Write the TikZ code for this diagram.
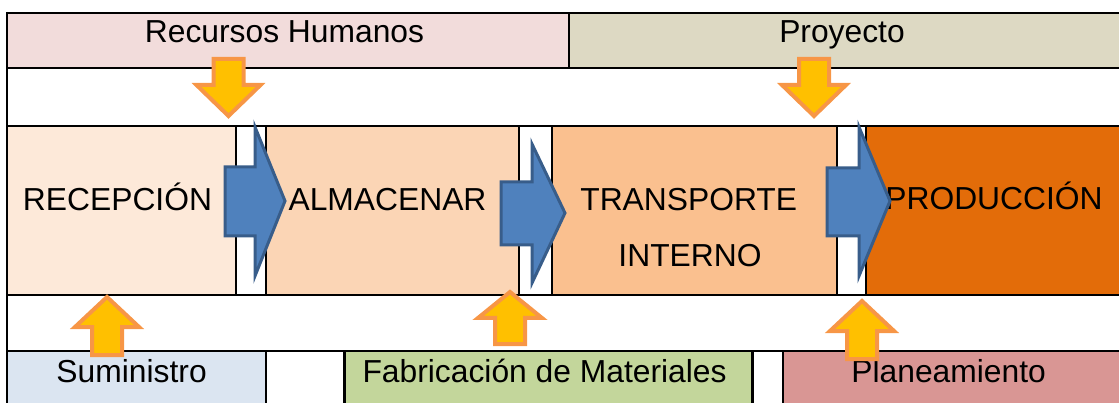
\documentclass[tikz,border=0pt]{standalone}
\usepackage{fontspec}
\setmainfont{Liberation Sans}
\definecolor{rhfill}{HTML}{F2DCDB}
\definecolor{pyfill}{HTML}{DDD9C3}
\definecolor{recfill}{HTML}{FDE9D9}
\definecolor{almfill}{HTML}{FBD5B5}
\definecolor{trafill}{HTML}{FAC08F}
\definecolor{profill}{HTML}{E36C09}
\definecolor{sumfill}{HTML}{DBE5F1}
\definecolor{fabfill}{HTML}{C3D69B}
\definecolor{plafill}{HTML}{D99694}
\definecolor{arrfill}{HTML}{FFC000}
\definecolor{arrline}{HTML}{F79646}
\definecolor{bfill}{HTML}{4F81BD}
\definecolor{bline}{HTML}{385D8A}
\begin{document}
\begin{tikzpicture}[x=1pt,y=-1pt,
  gridline/.style={line width=2.4pt, black},
  lbl/.style={anchor=base, inner sep=0pt, font=\fontsize{31.8}{38}\selectfont},
  oarrow/.style={fill=arrfill, draw=arrline, line width=4pt, line join=miter},
  barrow/.style={fill=bfill, draw=bline, line width=3pt, line join=miter}]
\useasboundingbox (0,0) rectangle (1119,403);
% cell fills
\fill[rhfill] (7,13) rectangle (569,68);
\fill[pyfill] (569,13) rectangle (1130,68);
\fill[recfill] (7,126) rectangle (236,295);
\fill[almfill] (266,126) rectangle (519,295);
\fill[trafill] (552,126) rectangle (837,295);
\fill[profill] (866,126) rectangle (1130,295);
\fill[sumfill] (7,351) rectangle (266,410);
\fill[fabfill] (344.6,351) rectangle (752.5,410);
\fill[plafill] (783,351) rectangle (1130,410);
% grid lines
\draw[gridline] (7,13) -- (1130,13);
\draw[gridline] (7,68) -- (1130,68);
\draw[gridline] (7,126) -- (1130,126);
\draw[gridline] (7,295) -- (1130,295);
\draw[gridline] (7,351) -- (1130,351);
\draw[gridline] (7,11.8) -- (7,410);
\draw[gridline] (569,13) -- (569,68);
\foreach \xx in {236,266,519,552,837,866} \draw[gridline] (\xx,126) -- (\xx,295);
\foreach \xx in {266,344.6,752.5,783} \draw[gridline] (\xx,351) -- (\xx,410);
% texts
\node[lbl] (rh) at (284.5,43) {Recursos Humanos};
\node[lbl] (py) at (842,43) {Proyecto};
\node[lbl] (rec) at (117.5,211) {RECEPCIÓN};
\node[lbl] (alm) at (387.5,211) {ALMACENAR};
\node[lbl] (tra1) at (688.7,211) {TRANSPORTE};
\node[lbl] (tra2) at (690,267) {INTERNO};
\node[lbl] (pro) at (994,210) {PRODUCCIÓN};
\node[lbl] (sum) at (131.6,382) {Suministro};
\node[lbl] (fab) at (544.6,382) {Fabricación de Materiales};
\node[lbl] (pla) at (948.6,382) {Planeamiento};
% blue process arrows
\draw[barrow] (225,167) -- (255,167) -- (255,127) -- (285,201) -- (255,276) -- (255,236) -- (225,236) -- cycle;
\draw[barrow] (501,182) -- (532,182) -- (532,144) -- (565,213) -- (532,283) -- (532,245) -- (501,245) -- cycle;
\draw[barrow] (827,168) -- (859,168) -- (859,127) -- (890,201) -- (859,276) -- (859,236) -- (827,236) -- cycle;
% orange down arrows
\foreach \cx in {228.5,814} {
  \draw[oarrow] (\cx-15,59) -- (\cx+15,59) -- (\cx+15,85) -- (\cx+32,85) -- (\cx,116) -- (\cx-32,85) -- (\cx-15,85) -- cycle;
}
% orange up arrows
\draw[oarrow] (107-15,355) -- (107+15,355) -- (107+15,327) -- (107+32,327) -- (107,297) -- (107-32,327) -- (107-15,327) -- cycle;
\draw[oarrow] (510-15,344) -- (510+15,344) -- (510+15,318) -- (510+32,318) -- (510,292) -- (510-32,318) -- (510-15,318) -- cycle;
\draw[oarrow] (862-15,359) -- (862+15,359) -- (862+15,331) -- (862+32,331) -- (862,301) -- (862-32,331) -- (862-15,331) -- cycle;
\end{tikzpicture}
\end{document}
